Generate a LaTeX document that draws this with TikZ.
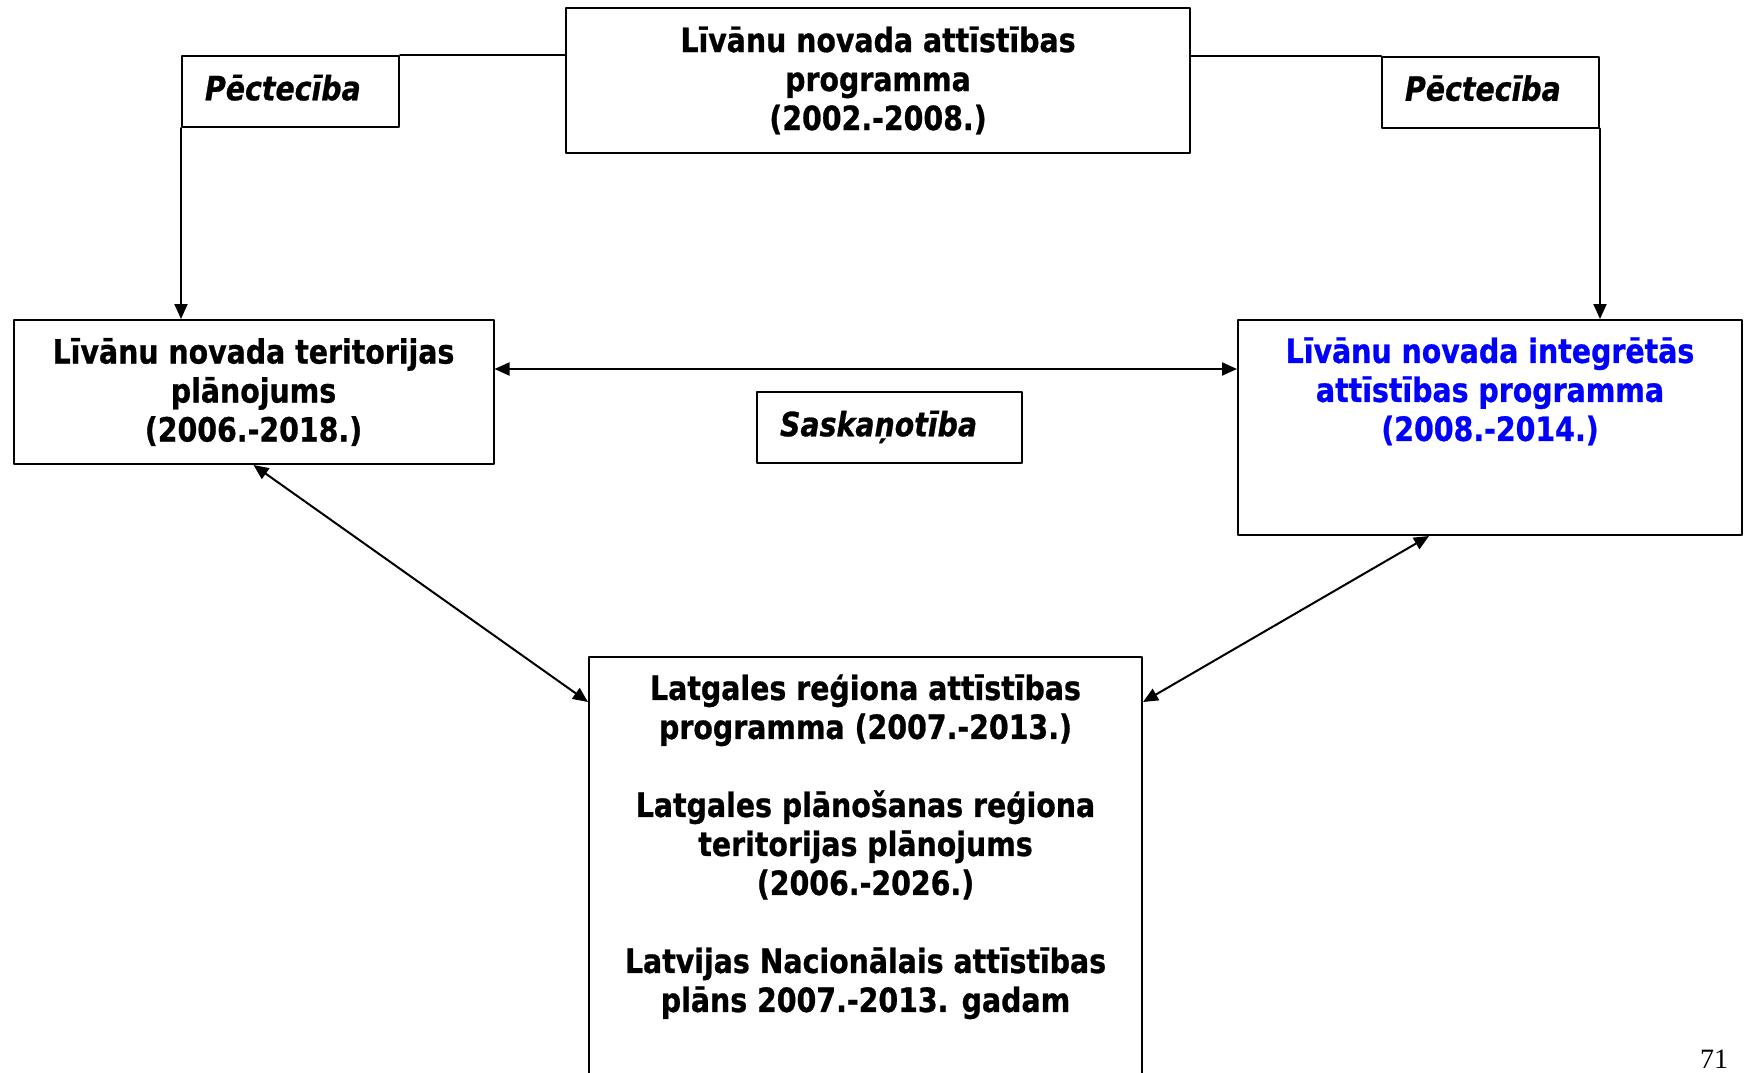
\documentclass[tikz,border=0pt]{standalone}
\usepackage{fontspec}
\newfontfamily\boxfont[FakeStretch=0.85,FakeBold=0.8]{DejaVu Sans}
\newfontfamily\pagefont{Liberation Serif}
\usepackage{tikz}
\usetikzlibrary{arrows.meta}
\definecolor{progblue}{RGB}{0,0,255}

\begin{document}
\begin{tikzpicture}[line cap=round,line join=round,>={Triangle[length=7.5pt,width=6.5pt]},x=0.5pt,y=-0.5pt,
  box/.style={draw,line width=1pt,inner sep=0pt,align=center,font=\boxfont\bfseries\fontsize{16.7}{19.5}\selectfont},
  txt/.style={inner sep=0pt,align=center,anchor=north,font=\boxfont\bfseries\fontsize{16.7}{19.5}\selectfont},
  tag/.style={draw,line width=1pt,inner xsep=11.5pt,inner ysep=0pt,text width=85.5pt,text depth=4pt,minimum height=35.5pt,align=left,font=\boxfont\bfseries\itshape\fontsize{16.7}{19.5}\selectfont},
  link/.style={line width=1pt}]
      \useasboundingbox (0,0) rectangle (1744,1072);
      \clip (0,0) rectangle (1744,1072);
      % programme boxes
      \node[box,minimum width=312pt,minimum height=72.5pt] (top) at (878,80.5) {Līvānu novada attīstības\\programma\\(2002.-2008.)};
      \node[box,minimum width=240pt,minimum height=72pt] (terr) at (253.5,392) {Līvānu novada teritorijas\\plānojums\\(2006.-2018.)};
      \node[box,minimum width=252pt,minimum height=107.5pt] (integ) at (1490,427.5) {};
      \node[txt,text=progblue] (integtxt) at ([yshift=-9pt]integ.north) {Līvānu novada integrētās\\attīstības programma\\(2008.-2014.)};
      \node[box,minimum width=276.5pt,minimum height=226.5pt] (reg) at (865.5,883.5) {};
      \node[txt] (regtxt) at ([yshift=-9pt]reg.north) {Latgales reģiona attīstības\\programma (2007.-2013.)\\[19.5pt]Latgales plānošanas reģiona\\teritorijas plānojums\\(2006.-2026.)\\[19.5pt]Latvijas Nacionālais attīstības\\plāns 2007.-2013. gadam};
      % relation tags
      \node[tag] (pecl) at (290.5,91.5) {Pēctecība};
      \node[tag] (pecr) at (1490.5,92) {Pēctecība};
      \node[tag,text width=109.5pt] (sask) at (889.5,427.5) {Saskaņotība};
      % connectors
      \draw[link] (pecl.north east) -- (pecl.north east -| top.west);
      \draw[link,->] (pecl.south west) -- (pecl.south west |- terr.north);
      \draw[link] (pecr.north west) -- (pecr.north west -| top.east);
      \draw[link,->] (pecr.south east) -- (pecr.south east |- integ.north);
      \draw[link,<->] ([yshift=11.5pt]terr.east) -- ([yshift=11.5pt]terr.east -| integ.west);
      \draw[link,<->] (terr.south) -- ([yshift=-23pt]reg.north west);
      \draw[link,<->] ([xshift=-30.5pt]integ.south) -- ([yshift=-23pt]reg.north east);
      \node[anchor=base,inner sep=0pt,font=\pagefont\fontsize{14}{16}\selectfont] (pnum) at (1714,1068) {71};
\end{tikzpicture}
\end{document}
